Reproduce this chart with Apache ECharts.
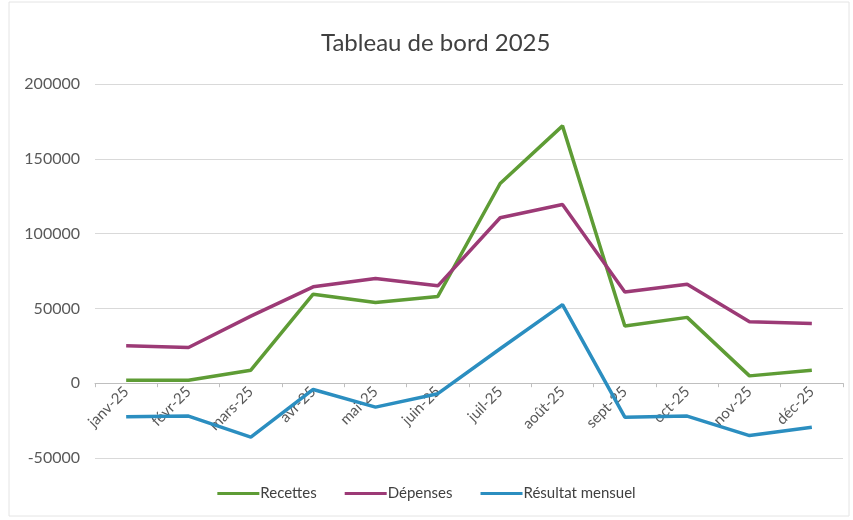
<!DOCTYPE html>
<html>
<head>
<meta charset="utf-8">
<script src="https://cdn.jsdelivr.net/npm/echarts@6/dist/echarts.min.js"></script>
<style>
  html, body { margin: 0; padding: 0; background: #fff; }
  #chart { width: 853px; height: 520px; }
</style>
</head>
<body>
<div id="chart"></div>
<script>
// données
const mois = ['janv-25', 'févr-25', 'mars-25', 'avr-25', 'mai-25', 'juin-25',
  'juil-25', 'août-25', 'sept-25', 'oct-25', 'nov-25', 'déc-25'];
const recettes = [2000, 2000, 8700, 59500, 54000, 58000, 133500, 172000, 38300, 44000, 4900, 8700];
const depenses = [25000, 23900, 44800, 64400, 70000, 65100, 110600, 119500, 61000, 66200, 41000, 39900];
const resultat = [-22500, -22000, -36000, -4200, -16000, -7000, 23000, 52500, -22700, -22000, -35000, -29500];
const yTicks = [-50000, 0, 50000, 100000, 150000, 200000];

const font = 'Lato, "Open Sans", sans-serif';
let chart = echarts.init(document.getElementById('chart'));

// hauteur de la grille pour remonter l'axe des mois jusqu'à 0
const gridTop = 84, gridBottom = 62;
const gridH = 520 - gridTop - gridBottom;
const zeroOffset = -gridH * (0 - yTicks[0]) / (yTicks[yTicks.length - 1] - yTicks[0]);

chart.setOption({
  animation: false,
  color: ['#5e9c35', '#9c3a76', '#2b8ec0'],
  title: {
    text: 'Tableau de bord 2025',
    left: 316,
    top: 26,
    textStyle: { fontFamily: font, fontSize: 24, fontWeight: 'normal', color: '#404040' }
  },
  graphic: [{
    type: 'rect',
    shape: { x: 9, y: 2, width: 840, height: 514 },
    style: { fill: 'none', stroke: '#e4e4e4', lineWidth: 1 }
  }],
  legend: {
    bottom: 14,
    left: 'center',
    itemWidth: 42,
    itemHeight: 3,
    itemGap: 28,
    icon: 'rect',
    textStyle: { fontFamily: font, fontSize: 15, color: '#404040', padding: [0, 0, 0, -4] },
    data: ['Recettes', 'Dépenses', 'Résultat mensuel']
  },
  grid: { left: 95, right: 10, top: gridTop, bottom: gridBottom },
  xAxis: {
    type: 'category',
    data: mois,
    boundaryGap: true,
    offset: zeroOffset,
    axisLine: { onZero: false, lineStyle: { color: '#bfbfbf', width: 1 } },
    axisTick: { show: true, length: 4, lineStyle: { color: '#bfbfbf' } },
    axisLabel: {
      rotate: 45,
      interval: 0,
      margin: 6,
      fontFamily: font,
      fontSize: 15,
      color: '#595959'
    }
  },
  yAxis: {
    type: 'value',
    min: yTicks[0],
    max: yTicks[yTicks.length - 1],
    interval: 50000,
    axisLine: { show: false },
    axisTick: { show: false },
    axisLabel: { margin: 15, fontFamily: font, fontSize: 16, color: '#595959', formatter: v => String(v) },
    splitLine: { lineStyle: { color: '#d9d9d9', width: 1 } }
  },
  series: [
    { name: 'Recettes', type: 'line', data: recettes, symbol: 'none', lineStyle: { width: 3.5 } },
    { name: 'Dépenses', type: 'line', data: depenses, symbol: 'none', lineStyle: { width: 3.5 } },
    { name: 'Résultat mensuel', type: 'line', data: resultat, symbol: 'none', lineStyle: { width: 3.5 } }
  ]
});
</script>
</body>
</html>
